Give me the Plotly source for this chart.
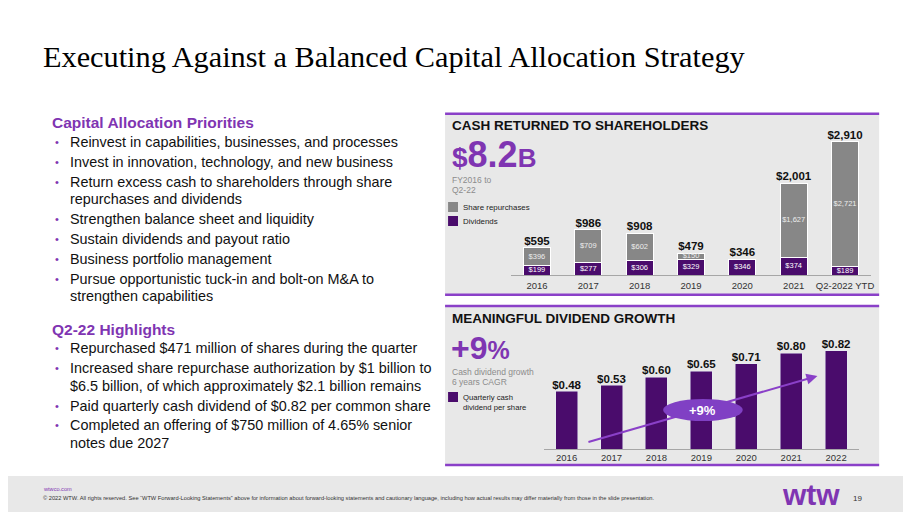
import plotly.graph_objects as go

W, H = 911, 512
SANS = "Liberation Sans, Arial, sans-serif"
SERIF = "Liberation Serif, Times New Roman, serif"
PURPLE = "#7F35B2"
LINE_PURPLE = "#8A40C8"
DARK_PURPLE = "#4A0C6C"
GREY_BAR = "#878787"
PANEL_BG = "#E8E8E8"

# ---------------- data ----------------
cash_years = ["2016", "2017", "2018", "2019", "2020", "2021", "Q2-2022 YTD"]
dividends = [199, 277, 306, 329, 346, 374, 189]
repurchases = [396, 709, 602, 150, 0, 1627, 2721]

div_years = ["2016", "2017", "2018", "2019", "2020", "2021", "2022"]
div_per_share = [0.48, 0.53, 0.60, 0.65, 0.71, 0.80, 0.82]

totals = [d + r for d, r in zip(dividends, repurchases)]


def px(x):
    return x / W


def py(y):
    return 1 - y / H


fig = go.Figure()

# ---- Cash returned: stacked bars ----
fig.add_trace(go.Bar(
    x=cash_years, y=dividends, name="Dividends",
    marker=dict(color=DARK_PURPLE, line=dict(color="white", width=1)),
    width=0.53, xaxis="x", yaxis="y", hoverinfo="skip", showlegend=False,
))
fig.add_trace(go.Bar(
    x=cash_years, y=[v if v else None for v in repurchases], name="Share repurchases",
    marker=dict(color=GREY_BAR, line=dict(color="white", width=1)),
    width=0.53, xaxis="x", yaxis="y", hoverinfo="skip", showlegend=False,
))
# segment labels (centred in each stacked segment)
fig.add_trace(go.Scatter(
    x=cash_years, y=[d / 2 for d in dividends], mode="text",
    text=[f"${v:,}" for v in dividends], textposition="middle center",
    textfont=dict(family=SANS, size=7.5, color="white"),
    xaxis="x", yaxis="y", hoverinfo="skip", showlegend=False, cliponaxis=False,
))
fig.add_trace(go.Scatter(
    x=[c for c, r in zip(cash_years, repurchases) if r],
    y=[d + r / 2 for d, r in zip(dividends, repurchases) if r], mode="text",
    text=[f"${r:,}" for r in repurchases if r], textposition="middle center",
    textfont=dict(family=SANS, size=7.5, color="#EDEDED"),
    xaxis="x", yaxis="y", hoverinfo="skip", showlegend=False, cliponaxis=False,
))
fig.add_trace(go.Scatter(
    x=cash_years, y=totals, mode="text",
    text=[f"<b>${t:,}</b>" for t in totals], textposition="top center",
    textfont=dict(family=SANS, size=11.5, color="#111111"),
    xaxis="x", yaxis="y", hoverinfo="skip", showlegend=False, cliponaxis=False,
))

# ---- Dividend per share bars ----
fig.add_trace(go.Bar(
    x=div_years, y=div_per_share, name="Quarterly cash dividend per share",
    marker=dict(color=DARK_PURPLE),
    width=0.49, xaxis="x2", yaxis="y2", hoverinfo="skip", showlegend=False,
))
fig.add_trace(go.Scatter(
    x=div_years, y=div_per_share, mode="text",
    text=[f"<b>${v:.2f}</b>" for v in div_per_share], textposition="top center",
    textfont=dict(family=SANS, size=11.5, color="#111111"),
    xaxis="x2", yaxis="y2", hoverinfo="skip", showlegend=False, cliponaxis=False,
))

shapes = []
annotations = []


def rect(x0, y0, x1, y1, color, layer="below"):
    shapes.append(dict(type="rect", xref="paper", yref="paper",
                       x0=px(x0), x1=px(x1), y0=py(y1), y1=py(y0),
                       fillcolor=color, line=dict(width=0), layer=layer))


def hline(x0, x1, y, color, width):
    shapes.append(dict(type="line", xref="paper", yref="paper",
                       x0=px(x0), x1=px(x1), y0=py(y), y1=py(y),
                       line=dict(color=color, width=width), layer="below"))


def txt(x, y, s, size, color="#000000", bold=False, family=SANS,
        xanchor="left", yanchor="middle"):
    if bold:
        s = f"<b>{s}</b>"
    annotations.append(dict(x=px(x), y=py(y), xref="paper", yref="paper",
                            text=s, showarrow=False, xanchor=xanchor,
                            yanchor=yanchor, borderpad=0,
                            font=dict(family=family, size=size, color=color)))


# panels
rect(439, 105.7, 875, 286.7, PANEL_BG)
hline(439, 875, 105.7, LINE_PURPLE, 2.5)
hline(439, 875, 286.7, LINE_PURPLE, 2.5)
rect(439, 298, 875, 457, PANEL_BG)
hline(439, 875, 298, LINE_PURPLE, 2.5)
hline(439, 875, 457, LINE_PURPLE, 2.5)

# footer
rect(0, 468, 911, 512, PANEL_BG)

# title
txt(34, 49, "Executing Against a Balanced Capital Allocation Strategy", 30.3,
    color="#000000", family=SERIF)

# left text column
txt(43, 114, "Capital Allocation Priorities", 15.5, color=PURPLE, bold=True)
block1 = [
    (134, "Reinvest in capabilities, businesses, and processes", True),
    (154, "Invest in innovation, technology, and new business", True),
    (174, "Return excess cash to shareholders through share", True),
    (191, "repurchases and dividends", False),
    (211, "Strengthen balance sheet and liquidity", True),
    (231, "Sustain dividends and payout ratio", True),
    (251, "Business portfolio management", True),
    (271, "Pursue opportunistic tuck-in and bolt-on M&amp;A to", True),
    (288, "strengthen capabilities", False),
]
txt(43, 321, "Q2-22 Highlights", 15.5, color=PURPLE, bold=True)
block2 = [
    (340, "Repurchased $471 million of shares during the quarter", True),
    (360, "Increased share repurchase authorization by $1 billion to", True),
    (378, "$6.5 billion, of which approximately $2.1 billion remains", False),
    (398, "Paid quarterly cash dividend of $0.82 per common share", True),
    (417, "Completed an offering of $750 million of 4.65% senior", True),
    (435, "notes due 2027", False),
]
for yy, s, bullet in block1 + block2:
    if bullet:
        txt(46, yy, "•", 11, color=PURPLE)
    txt(61, yy, s, 14.4, color="#111111")

# panel 1 texts
txt(445, 117, "CASH RETURNED TO SHAREHOLDERS", 13.5, color="#111111", bold=True)
txt(445, 146, "<span style='font-size:28px'>$</span>8.2<span style='font-size:26px'>B</span>",
    36, color=PURPLE, bold=True)
txt(445, 172, "FY2016 to", 8.5, color="#8C8C8C")
txt(445, 182, "Q2-22", 8.5, color="#8C8C8C")
rect(442, 194, 452, 204, GREY_BAR)
rect(442, 208, 452, 218, DARK_PURPLE)
txt(456, 199, "Share repurchases", 7.9, color="#222222")
txt(456, 213, "Dividends", 7.9, color="#222222")

# panel 2 texts
txt(445, 310, "MEANINGFUL DIVIDEND GROWTH", 13.5, color="#111111", bold=True)
txt(444, 340, "+9<span style='font-size:25px'>%</span>", 32, color=PURPLE, bold=True)
txt(445, 364, "Cash dividend growth", 8.5, color="#8C8C8C")
txt(445, 374, "6 years CAGR", 8.5, color="#8C8C8C")
rect(442, 384, 452, 394, DARK_PURPLE)
txt(456, 389, "Quarterly cash", 7.7, color="#222222")
txt(456, 399, "dividend per share", 7.7, color="#222222")

# CAGR arrow + ellipse
shapes.append(dict(type="line", xref="paper", yref="paper",
                   x0=px(583), y0=py(434), x1=px(806), y1=py(370),
                   line=dict(color=LINE_PURPLE, width=2), layer="above"))
annotations.append(dict(x=px(813), y=py(368), xref="paper", yref="paper",
                        ax=-12, ay=3.4, text="", showarrow=True, arrowhead=2,
                        arrowsize=1.1, arrowwidth=2, arrowcolor=LINE_PURPLE,
                        standoff=0))
shapes.append(dict(type="circle", xref="paper", yref="paper",
                   x0=px(658), x1=px(738), y0=py(413), y1=py(391),
                   fillcolor="#8040C4", line=dict(width=0), layer="above"))
txt(698, 402, "+9%", 13, color="white", bold=True, xanchor="center")

# footer texts
txt(34, 481, "wtwco.com", 5.6, color=PURPLE)
txt(34, 490, "© 2022 WTW. All rights reserved. See “WTW Forward-Looking Statements” above for "
    "information about forward-looking statements and cautionary language, including how actual "
    "results may differ materially from those in the slide presentation.", 5.7, color="#333333")
txt(807, 486, "wtw", 30, color=PURPLE, bold=True, xanchor="center")
txt(853, 490, "19", 8, color="#333333", xanchor="center")

fig.update_layout(
    width=W, height=H,
    margin=dict(l=0, r=0, t=0, b=0),
    paper_bgcolor="white", plot_bgcolor="rgba(0,0,0,0)",
    barmode="stack",
    showlegend=False,
    shapes=shapes, annotations=annotations,
    xaxis=dict(domain=[px(505.5), px(866.5)], anchor="y", type="category",
               showline=True, linecolor="#A6A6A6", linewidth=1, ticks="",
               showgrid=False, zeroline=False, fixedrange=True,
               ticklabelstandoff=2,
               tickfont=dict(family=SANS, size=9.5, color="#333333")),
    yaxis=dict(domain=[py(267), py(129.4)], anchor="x", range=[0, 3000],
               visible=False, fixedrange=True),
    xaxis2=dict(domain=[px(538.5), px(854.3)], anchor="y2", type="category",
                showline=True, linecolor="#A6A6A6", linewidth=1, ticks="",
                showgrid=False, zeroline=False, fixedrange=True,
                tickfont=dict(family=SANS, size=9.5, color="#333333")),
    yaxis2=dict(domain=[py(441), py(333)], anchor="x2", range=[0, 0.9],
                visible=False, fixedrange=True),
)

fig.write_html("out.html")
